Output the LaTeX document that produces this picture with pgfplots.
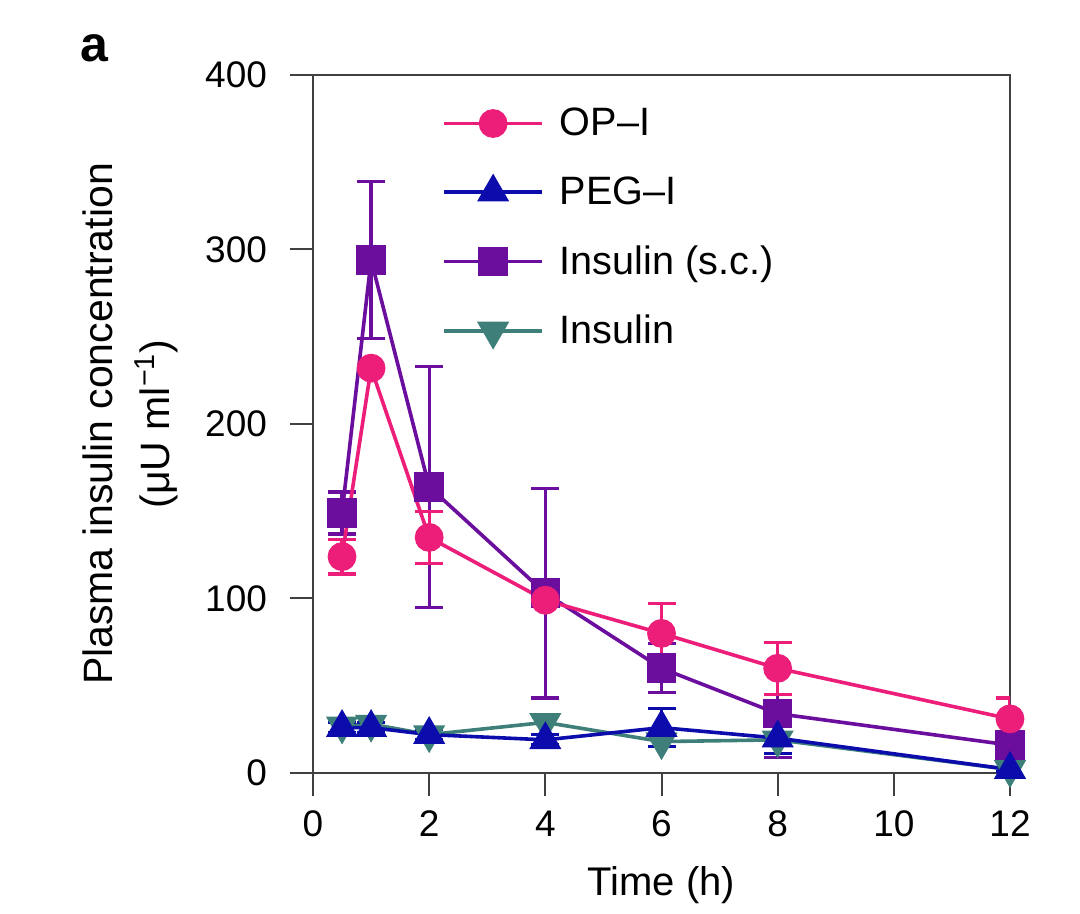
\documentclass[border=0pt]{standalone}
\usepackage{fontspec}
\setmainfont{Liberation Sans}
\usepackage{pgfplots}
\pgfplotsset{compat=1.18}
\definecolor{cpink}{RGB}{236,30,121}
\definecolor{cblue}{RGB}{12,12,172}
\definecolor{cpurple}{RGB}{107,14,158}
\definecolor{cteal}{RGB}{62,127,122}
\begin{document}
\begin{tikzpicture}
\path[use as bounding box] (-156.5pt,-70.5pt) rectangle (383.5pt,386.5pt);
\begin{axis}[
  at={(0pt,0pt)}, anchor=south west,
  scale only axis,
  width=348.5pt, height=349pt,
  xmin=0, xmax=12, ymin=0, ymax=400,
  xtick={0,2,...,12}, ytick={0,100,...,400},
  tick align=outside, tick pos=left,
  major tick length=11.5pt,
  axis line style={line width=1pt, black!75},
  every tick/.style={line width=1pt, black!75},
  /pgf/number format/assume math mode=true,
  ticklabel style={font=\fontsize{18.5}{22}\selectfont},
  xticklabel style={yshift=-4pt},
  yticklabel style={xshift=-8pt},
  xlabel={Time (h)},
  ylabel={Plasma insulin concentration\\(μU ml\textsuperscript{−1})},
  xlabel style={font=\fontsize{20}{24}\selectfont, at={(axis description cs:0.5,-0.160)}, anchor=center},
  ylabel style={font=\fontsize{20.5}{28.5}\selectfont, align=center, at={(axis description cs:-0.262,0.5)}, anchor=center, rotate=0},
  legend cell align=left,
  reverse legend,
  legend style={draw=none, fill=none, at={(axis description cs:0.185,0.953)}, anchor=north west,
    font=\fontsize{19.8}{23}\selectfont, row sep=19pt, inner sep=0pt,
    nodes={inner xsep=8pt, inner ysep=0pt}},
  legend image code/.code={
    \draw[mark repeat=2,mark phase=2] plot coordinates {(0pt,0pt) (24.5pt,0pt) (49pt,0pt)};
  },
  every axis plot/.append style={line width=1.8pt},
  error bars/error bar style={line width=1.6pt},
  error bars/error mark options={rotate=90, mark size=7pt, line width=1.6pt},
]
% Insulin (teal)
\addplot[color=cteal, mark=triangle*, mark options={rotate=180, scale=1, mark size=7.5pt, solid}]
  coordinates {(0.5,27) (1,28) (2,22) (4,29) (6,18) (8,19) (12,2)};
\addlegendentry{Insulin}
% Insulin s.c. (purple)
\addplot[color=cpurple, mark=square*, mark options={mark size=6.5pt, solid},
  error bars/.cd, y dir=both, y explicit]
  coordinates {(0.5,149) +- (0,12) (1,294) +- (0,45) (2,164) +- (0,69) (4,103) +- (0,60)
               (6,60) +- (0,14) (8,34) +- (0,25) (12,16) +- (0,5)};
\addlegendentry{Insulin (s.c.)}
% PEG-I (blue)
\addplot[color=cblue, mark=triangle*, mark options={mark size=7.5pt, solid},
  error bars/.cd, y dir=both, y explicit]
  coordinates {(0.5,26) +- (0,3) (1,26) +- (0,3) (2,22) +- (0,3) (4,19) +- (0,3)
               (6,26) +- (0,11) (8,20) +- (0,9) (12,2) +- (0,1)};
\addlegendentry{PEG–I}
% OP-I (pink)
\addplot[color=cpink, mark=*, mark options={mark size=6.3pt, solid},
  error bars/.cd, y dir=both, y explicit]
  coordinates {(0.5,124) +- (0,10) (1,232) +- (0,0) (2,135) +- (0,15) (4,99) +- (0,0)
               (6,80) +- (0,17) (8,60) +- (0,15) (12,31) +- (0,12)};
\addlegendentry{OP–I}
\end{axis}
\node[font=\fontsize{25}{28}\bfseries\selectfont, anchor=center] at (-109.5pt,362.5pt) {a};
\end{tikzpicture}
\end{document}
